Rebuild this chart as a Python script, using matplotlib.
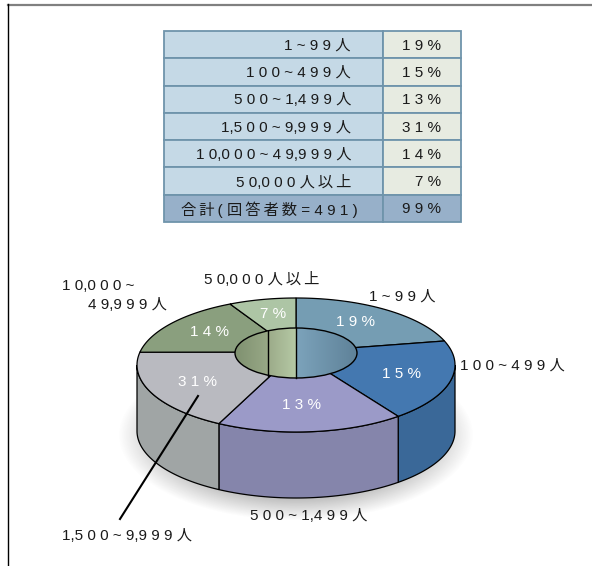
import numpy as np
import matplotlib
matplotlib.use("Agg")
import matplotlib.pyplot as plt
from matplotlib.patches import Ellipse, Polygon, Rectangle

plt.rcParams["font.family"] = ["Liberation Sans", "Noto Sans CJK JP", "DejaVu Sans"]

size_labels = ["1 ~ 99人", "100 ~ 499人", "500 ~ 1,499人", "1,500 ~ 9,999人", "10,000 ~ 49,999人", "50,000人以上"]
share_values = [19, 15, 13, 31, 14, 7]
total_label = "合計( 回答者数 = 491 )"
total_value = 99
# the pie in the picture is not drawn to scale, so the sweep is read off it too
slice_sweep = [69, 71, 69, 72, 54.5, 24.5]

top_colors = ["#759db3", "#4478b0", "#9b9ac8", "#b9bac0", "#8a9f7e", "#adc5a5"]
wall_colors = ["#759db3", "#3a6898", "#8585ab", "#a0a5a5", "#8a9f7e", "#adc5a5"]

CX, CY, RX, RY = 296, 365, 159, 67
DEPTH = 66
HUB_Y = 352
HOLE_Y, HOLE_RX, HOLE_RY = 353, 61, 25
FONT_SIZE = 11


def track(text):
    # no letter spacing in matplotlib, thin spaces do the job
    out = ""
    for i, ch in enumerate(text):
        out += ch
        if i + 1 < len(text) and ch not in ", " and text[i + 1] not in ", ":
            out += "\u2009"
            if ch.isdigit() or ch == "%":
                out += "\u200a"
    return out


def rim(theta):
    t = np.radians(theta)
    return CX + RX * np.sin(t), CY - RY * np.cos(t)


def label(ax, x, y, text, color="#1a1a1a", ha="center", size=FONT_SIZE):
    ax.text(x, y + 1, track(text), color=color, ha=ha, va="center", fontsize=size)


fig = plt.figure(figsize=(5.92, 5.66), dpi=100)
ax = fig.add_axes([0, 0, 1, 1])

# frame lines
ax.plot([8, 592], [5, 5], color="#808080", lw=1.6)
ax.plot([8, 8], [4, 566], color="black", lw=1.0)

# table
row_h = (222 - 31) / 7
for i, name in enumerate(size_labels + [total_label]):
    y = 31 + i * row_h
    is_total = i == len(size_labels)
    left = "#97b0c9" if is_total else "#c5d9e6"
    right = "#97b0c9" if is_total else "#e7ebe1"
    ax.add_patch(Rectangle((164, y), 219, row_h, fc=left, ec="#6f94ab", lw=1.3))
    ax.add_patch(Rectangle((383, y), 78, row_h, fc=right, ec="#6f94ab", lw=1.3))
    value = total_value if is_total else share_values[i]
    label(ax, 358 if is_total else 351, y + row_h / 2, name, ha="right")
    label(ax, 441, y + row_h / 2, f"{value}%", ha="right")

# soft shadow under the disc
xx, yy = np.meshgrid(np.linspace(110, 490, 380), np.linspace(340, 540, 200))
dist = np.sqrt(((xx - CX) / 178) ** 2 + ((yy - 435) / 86) ** 2)
shadow = np.zeros(xx.shape + (4,))
shadow[..., :3] = 0.45
shadow[..., 3] = 0.5 * np.clip((1 - dist) / 0.28, 0, 1)
ax.imshow(shadow, extent=(110, 490, 540, 340), aspect="auto", zorder=1)

# side wall and top face
edges = np.concatenate([[0], np.cumsum(slice_sweep)])
for i in range(len(slice_sweep)):
    lo = max(edges[i], 90)
    hi = min(edges[i + 1], 270)
    if hi > lo:
        x, y = rim(np.linspace(lo, hi, 60))
        pts = np.r_[np.c_[x, y], np.c_[x[::-1], y[::-1] + DEPTH]]
        ax.add_patch(Polygon(pts, fc=wall_colors[i], ec="black", lw=0.9, zorder=2))
for i in range(len(slice_sweep)):
    x, y = rim(np.linspace(edges[i], edges[i + 1], 60))
    pts = np.r_[[[CX, HUB_Y]], np.c_[x, y]]
    ax.add_patch(Polygon(pts, fc=top_colors[i], ec="black", lw=0.9, zorder=3))

# hole with its shaded inner wall
hole = Ellipse((CX, HOLE_Y), 2 * HOLE_RX, 2 * HOLE_RY, fc="none", ec="black", lw=1.0, zorder=6)
ax.add_patch(hole)
hole_parts = [
    (CX - HOLE_RX, 268, "#7f9170", "#98a886"),
    (268, CX, "#9cab89", "#b5c9a5"),
    (CX, CX + HOLE_RX, "#7ca3bb", "#5f8299"),
]
for x0, x1, c0, c1 in hole_parts:
    c0, c1 = np.array(matplotlib.colors.to_rgb(c0)), np.array(matplotlib.colors.to_rgb(c1))
    ramp = np.linspace(0, 1, 64)[None, :, None]
    im = ax.imshow(c0 + (c1 - c0) * ramp, extent=(x0, x1, HOLE_Y + HOLE_RY, HOLE_Y - HOLE_RY),
                   aspect="auto", zorder=5)
    im.set_clip_path(hole)
ax.plot([268, 268], [331, 376], color="black", lw=1.0, zorder=6)
ax.plot([CX, CX], [HOLE_Y - HOLE_RY, HOLE_Y + HOLE_RY], color="black", lw=1.0, zorder=6)

# leader line
ax.plot([198, 120], [396, 519], color="black", lw=1.5, zorder=7)

# percent labels on the slices
pct_pos = [(355, 322), (402, 374), (301, 405), (198, 382), (209, 332), (273, 314)]
for (x, y), v in zip(pct_pos, share_values):
    ax.text(x, y, track(f"{v}%"), color="white", ha="center", va="center", fontsize=FONT_SIZE, zorder=8)

# outer labels
label(ax, 402, 296, size_labels[0])
label(ax, 460, 365, size_labels[1], ha="left")
label(ax, 309, 515, size_labels[2])
label(ax, 62, 535, size_labels[3], ha="left")
label(ax, 62, 285, "10,000 ~", ha="left")
label(ax, 88, 304, "49,999人", ha="left")
label(ax, 204, 279, size_labels[5], ha="left")

ax.set_xlim(0, 592)
ax.set_ylim(566, 0)
ax.axis("off")
fig.savefig("out.png", dpi=100)
